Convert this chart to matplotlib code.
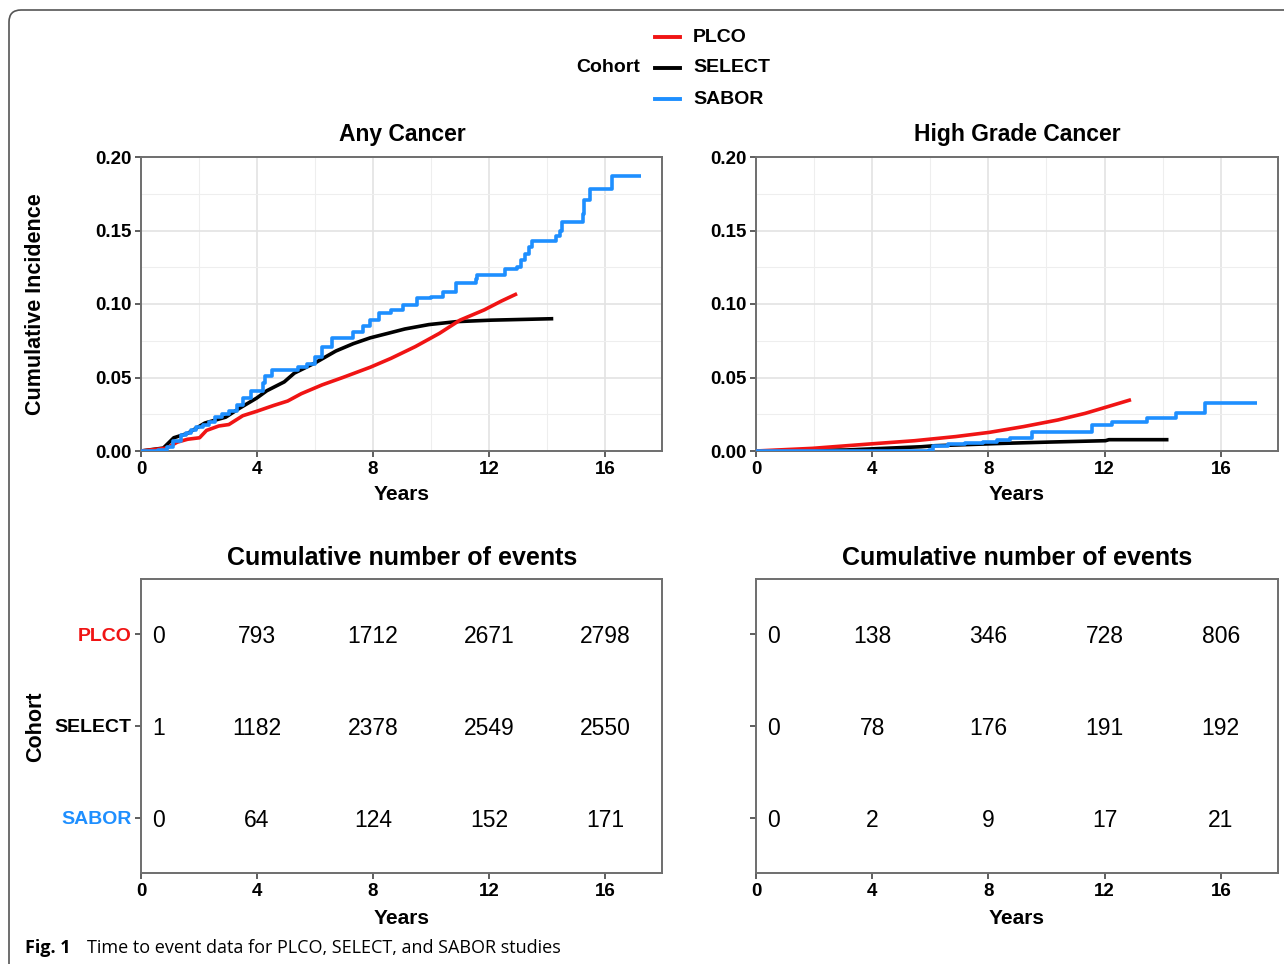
import matplotlib
matplotlib.use("Agg")
import matplotlib.pyplot as plt
from matplotlib.lines import Line2D
from matplotlib.patches import FancyBboxPatch

# === Data ===
cohorts = ["PLCO", "SELECT", "SABOR"]
colors = ["#f01414", "#000000", "#1e8fff"]

# Any cancer - cumulative incidence
plco_any_t = [0, 0.89, 1.25, 1.61, 2.02, 2.26, 2.68, 3.03, 3.51, 3.99, 4.58, 5.06, 5.53, 6.25,
              6.96, 7.91, 8.62, 9.46, 10.29, 11.0, 11.84, 12.43, 12.97]
plco_any_v = [0, 0.002, 0.006, 0.008, 0.009, 0.014, 0.017, 0.018, 0.024, 0.027, 0.031, 0.034,
              0.039, 0.045, 0.050, 0.057, 0.063, 0.071, 0.080, 0.089, 0.096, 0.102, 0.107]
select_any_t = [0, 0.77, 1.13, 1.61, 2.2, 2.92, 3.39, 3.99, 4.34, 4.94, 5.29, 6.01, 6.72, 7.32,
                7.91, 8.51, 9.1, 9.93, 10.88, 12.07, 14.22]
select_any_v = [0, 0.002, 0.009, 0.012, 0.019, 0.023, 0.029, 0.036, 0.041, 0.047, 0.053, 0.060,
                0.068, 0.073, 0.077, 0.080, 0.083, 0.086, 0.088, 0.089, 0.090]
sabor_any_t = [0, 0.6, 0.9, 1.1, 1.37, 1.55, 1.72, 1.9, 2.14, 2.35, 2.56, 2.8, 3.03, 3.3, 3.51,
               3.81, 4.22, 4.28, 4.52, 5.41, 5.71, 6.01, 6.25, 6.6, 7.32, 7.67, 7.91, 8.21,
               8.62, 9.04, 9.52, 9.99, 10.41, 10.88, 11.54, 11.6, 12.55, 12.97, 13.09, 13.25,
               13.38, 13.5, 14.33, 14.45, 14.51, 15.23, 15.29, 15.47, 16.24, 17.25]
sabor_any_v = [0, 0.001, 0.003, 0.007, 0.011, 0.012, 0.014, 0.016, 0.018, 0.020, 0.023, 0.025,
               0.027, 0.031, 0.036, 0.041, 0.046, 0.051, 0.055, 0.057, 0.059, 0.064, 0.071,
               0.077, 0.081, 0.085, 0.089, 0.094, 0.096, 0.099, 0.104, 0.105, 0.108, 0.114,
               0.117, 0.120, 0.124, 0.125, 0.130, 0.134, 0.139, 0.143, 0.146, 0.150, 0.156,
               0.161, 0.171, 0.178, 0.187, 0.187]

# High grade cancer - cumulative incidence
plco_hg_t = [0, 1.94, 3.93, 5.46, 6.87, 8.04, 9.21, 10.39, 11.33, 12.03, 12.91]
plco_hg_v = [0, 0.0018, 0.0048, 0.0070, 0.0098, 0.0127, 0.0166, 0.0211, 0.0256, 0.0297, 0.0349]
select_hg_t = [0, 3.11, 5.69, 6.16, 8.51, 10.15, 12.03, 12.15, 14.2]
select_hg_v = [0, 0.0007, 0.0029, 0.0036, 0.0052, 0.0061, 0.0070, 0.0077, 0.0077]
sabor_hg_t = [0, 5.95, 6.1, 6.6, 7.2, 7.8, 8.3, 8.75, 9.5, 11.55, 12.25, 13.45, 14.45, 15.45, 17.25]
sabor_hg_v = [0, 0.0007, 0.0036, 0.0048, 0.0055, 0.0063, 0.0075, 0.0088, 0.0127, 0.0177,
              0.0197, 0.0222, 0.0261, 0.0329, 0.0329]

# Cumulative number of events at 0, 4, 8, 12, 16 years
table_years = [0, 4, 8, 12, 16]
any_events = {
    "PLCO": [0, 793, 1712, 2671, 2798],
    "SELECT": [1, 1182, 2378, 2549, 2550],
    "SABOR": [0, 64, 124, 152, 171],
}
hg_events = {
    "PLCO": [0, 138, 346, 728, 806],
    "SELECT": [0, 78, 176, 191, 192],
    "SABOR": [0, 2, 9, 17, 21],
}

# === Figure setup ===
W, H = 1284, 964
plt.rcParams['font.family'] = ['Liberation Sans', 'DejaVu Sans']
fig = plt.figure(figsize=(W / 100, H / 100), dpi=100)


def box(left, top, right, bottom):
    return [left / W, 1 - bottom / H, (right - left) / W, (bottom - top) / H]


def fx(px):
    return px / W


def fy(py):
    return 1 - py / H


XMAX = 17.97
SPINE = '#6e6e6e'


def style_axes(ax, show_ylabels=True):
    ax.set_xlim(0, XMAX)
    ax.set_xticks(table_years)
    for s in ax.spines.values():
        s.set_color(SPINE)
        s.set_linewidth(1.4)
    ax.tick_params(length=4.5, width=1.1, color='#333333', labelsize=13.5, pad=2.5)
    for lab in ax.get_xticklabels() + ax.get_yticklabels():
        lab.set_fontweight('bold')
    if not show_ylabels:
        ax.set_yticklabels([])


def curve_panel(ax, series):
    ax.set_ylim(0, 0.2)
    ax.set_yticks([0, 0.05, 0.10, 0.15, 0.20])
    ax.set_yticklabels(["0.00", "0.05", "0.10", "0.15", "0.20"])
    ax.set_xticks([2, 6, 10, 14], minor=True)
    ax.set_yticks([0.025, 0.075, 0.125, 0.175], minor=True)
    ax.tick_params(which='minor', length=0)
    ax.grid(which='major', color='#e3e3e3', lw=1.2)
    ax.grid(which='minor', color='#eeeeee', lw=0.8)
    ax.set_axisbelow(True)
    for (t, v, step), c in zip(series, colors):
        ax.plot(t, v, color=c, lw=2.6, drawstyle='steps-post' if step else 'default',
                solid_capstyle='butt', zorder=3 if c != '#000000' else 2.5)
    style_axes(ax)


def table_panel(ax, events, show_ylabels):
    ax.set_ylim(0.4, 3.6)
    ax.set_yticks([3, 2, 1])
    ax.set_yticklabels(cohorts)
    ax.grid(False)
    style_axes(ax)
    for lab, c in zip(ax.get_yticklabels(), colors):
        lab.set_color(c)
        lab.set_fontsize(14)
    if not show_ylabels:
        ax.set_yticklabels([])
    for row, name in zip([3, 2, 1], cohorts):
        for yr, n in zip(table_years, events[name]):
            xpos = yr if yr > 0 else 0.6
            ax.text(xpos, row, str(n), ha='center', va='center_baseline', fontsize=16.5)


ax1 = fig.add_axes(box(141, 157, 662, 451))
curve_panel(ax1, [(plco_any_t, plco_any_v, False), (select_any_t, select_any_v, False),
                  (sabor_any_t, sabor_any_v, True)])
ax2 = fig.add_axes(box(756, 157, 1278, 451))
curve_panel(ax2, [(plco_hg_t, plco_hg_v, False), (select_hg_t, select_hg_v, False),
                  (sabor_hg_t, sabor_hg_v, True)])
ax3 = fig.add_axes(box(141, 579, 662, 873))
table_panel(ax3, any_events, True)
ax4 = fig.add_axes(box(756, 579, 1278, 873))
table_panel(ax4, hg_events, False)

# === Titles and axis labels ===
for cx in (402, 1017):
    fig.text(fx(cx), fy(500), "Years", ha='center', va='baseline', fontsize=15, fontweight='bold')
    fig.text(fx(cx), fy(924), "Years", ha='center', va='baseline', fontsize=15, fontweight='bold')
    fig.text(fx(cx), fy(565), "Cumulative number of events", ha='center', va='baseline',
             fontsize=18, fontweight='bold')
fig.text(fx(402), fy(141), "Any Cancer", ha='center', va='baseline', fontsize=16.5, fontweight='bold')
fig.text(fx(1017), fy(141), "High Grade Cancer", ha='center', va='baseline', fontsize=16.5,
         fontweight='bold')
fig.text(fx(36), fy(304), "Cumulative Incidence", ha='center', va='center', rotation=90,
         fontsize=15.5, fontweight='bold')
fig.text(fx(36), fy(727), "Cohort", ha='center', va='center', rotation=90,
         fontsize=15.5, fontweight='bold')

# === Legend ===
fig.text(fx(640), fy(68), "Cohort", ha='right', va='center', fontsize=14, fontweight='bold')
for i, (name, c) in enumerate(zip(cohorts, colors)):
    yy = fy(37 + 31 * i)
    fig.add_artist(Line2D([fx(655), fx(680)], [yy, yy], color=c, lw=2.8,
                          transform=fig.transFigure))
    fig.text(fx(693), yy, name, ha='left', va='center', fontsize=14, fontweight='bold')

# === Caption and frame ===
fig.text(fx(25), fy(953), "Fig. 1", ha='left', va='baseline', fontsize=13, fontweight='bold',
         family=['Open Sans', 'DejaVu Sans'])
fig.text(fx(87), fy(953), "Time to event data for PLCO, SELECT, and SABOR studies", ha='left',
         va='baseline', fontsize=13, family=['Open Sans', 'DejaVu Sans'])
fig.patches.append(FancyBboxPatch((9, -60), 1400, H - 10 + 60, transform=None,
                                  boxstyle="round,pad=0,rounding_size=12",
                                  fc='none', ec='#555555', lw=1.2))

fig.savefig("out.png", dpi=100)
